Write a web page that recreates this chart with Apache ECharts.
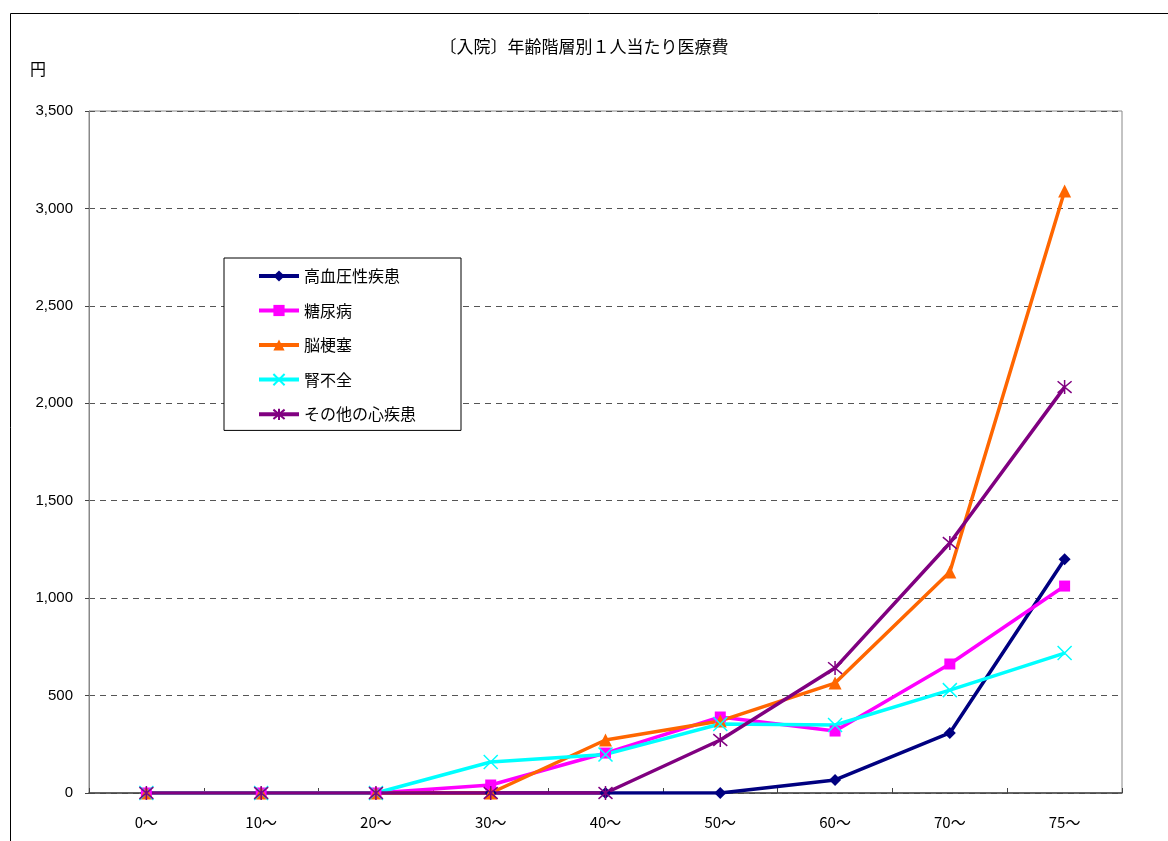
<!DOCTYPE html>
<html><head><meta charset="utf-8">
<script src="https://cdn.jsdelivr.net/npm/echarts@6/dist/echarts.min.js"></script>
<style>html,body{margin:0;padding:0;background:#fff}#c{width:1168px;height:841px}</style>
</head><body><div id="c"></div>
<script>
const categories = ['0～','10～','20～','30～','40～','50～','60～','70～','75～'];
const hypertension = [0,0,0,0,0,0,67,308,1200];
const diabetes = [0,0,0,41,205,390,318,662,1062];
const stroke = [0,0,0,0,272,370,564,1134,3090];
const renal = [0,0,0,159,198,354,349,528,718];
const otherHeart = [0,0,0,0,0,272,641,1283,2083];
const seriesNames = ['高血圧性疾患','糖尿病','脳梗塞','腎不全','その他の心疾患'];
const yTicks = [0,500,1000,1500,2000,2500,3000,3500];

const FONT = '"Noto Sans CJK JP", "Liberation Sans", sans-serif';
const crossPath = 'path://M0,0L10,10M10,0L0,10';
const starPath = 'path://M0,0L10,10M10,0L0,10M5,-1L5,11';

function mk(name, data, color, symbol, size, hollow) {
  return {
    name, type: 'line', data, symbol, symbolSize: size,
    showSymbol: true, animation: false,
    lineStyle: { color, width: 3.5 },
    itemStyle: hollow ? { color: 'none', borderColor: color, borderWidth: 1.5 } : { color },
    emphasis: { disabled: true }
  };
}

const chart = echarts.init(document.getElementById('c'), null, { renderer: 'canvas' });
chart.setOption({
  backgroundColor: '#fff',
  textStyle: { fontFamily: FONT },
  title: {
    text: '〔入院〕年齢階層別１人当たり医療費',
    left: 'center', top: 33,
    textStyle: { fontSize: 17, fontWeight: 'normal', color: '#000', fontFamily: FONT }
  },
  graphic: [
    { type: 'polyline', shape: { points: [[10.5, 841], [10.5, 13.5], [1168, 13.5]] },
      style: { stroke: '#000', lineWidth: 1, fill: 'none' } },
    { type: 'text', left: 30, top: 61, style: { text: '円', font: '16px ' + FONT, fill: '#000' } }
  ],
  legend: {
    orient: 'vertical', left: 224, top: 258,
    padding: [10, 45, 8, 33],
    itemWidth: 40, itemHeight: 14, itemGap: 18.5,
    borderColor: '#000', borderWidth: 1, backgroundColor: '#fff',
    lineStyle: { width: 4 },
    textStyle: { fontSize: 16, color: '#000', fontFamily: FONT },
    data: seriesNames
  },
  grid: { left: 89, right: 46, top: 111, bottom: 48, show: true, borderColor: '#888', borderWidth: 1 },
  xAxis: {
    type: 'category', data: categories, boundaryGap: true,
    axisLine: { lineStyle: { color: '#444', width: 1.5 } },
    axisTick: { show: true, inside: true, length: 5, interval: 0, lineStyle: { color: '#444' } },
    axisLabel: { fontSize: 15, color: '#000', margin: 22, fontFamily: FONT }
  },
  yAxis: {
    type: 'value', min: yTicks[0], max: yTicks[yTicks.length - 1], interval: 500,
    axisLine: { show: true, lineStyle: { color: '#888' } },
    axisTick: { show: true, length: 4, lineStyle: { color: '#444' } },
    axisLabel: { fontSize: 15, color: '#000', margin: 16, fontFamily: '"Liberation Sans", sans-serif',
      formatter: v => v.toLocaleString('en-US') },
    splitLine: { show: true, lineStyle: { color: '#555', type: [6, 5], width: 1 } }
  },
  series: [
    mk(seriesNames[0], hypertension, '#000080', 'diamond', 12, false),
    mk(seriesNames[1], diabetes, '#FF00FF', 'rect', 11, false),
    mk(seriesNames[2], stroke, '#FF6600', 'triangle', 13, false),
    mk(seriesNames[3], renal, '#00FFFF', crossPath, 14, true),
    mk(seriesNames[4], otherHeart, '#800080', starPath, 14, true)
  ]
});
</script></body></html>
